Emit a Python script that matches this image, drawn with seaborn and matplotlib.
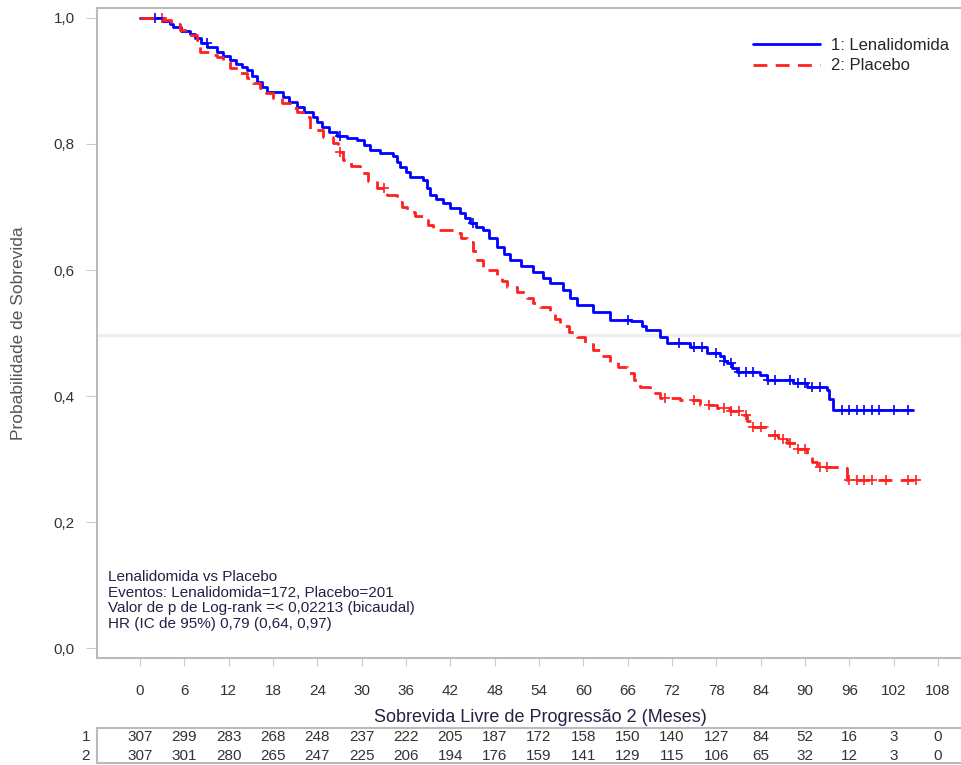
import numpy as np
import pandas as pd
import seaborn as sns
import matplotlib.pyplot as plt
from matplotlib.lines import Line2D

# curvas de Kaplan-Meier (meses, sobrevida)
t_lena = [0, 2.5, 3.1, 4.0, 4.5, 5.5, 6.8, 7.5, 8.3, 9.1, 10.4, 11.3, 12.2, 13.0, 13.8,
          14.5, 15.2, 15.8, 16.5, 17.2, 19.4, 20.2, 21.2, 22.2, 23.4, 24.0, 24.6, 25.6,
          26.7, 28.0, 29.4, 30.3, 31.1, 32.5, 34.2, 34.8, 35.2, 36.0, 36.5, 38.3, 38.8,
          39.2, 40.0, 41.0, 42.0, 43.3, 44.0, 44.7, 45.5, 46.4, 47.3, 48.3, 49.2, 50.1,
          51.5, 53.2, 54.5, 55.5, 57.2, 58.2, 59.1, 61.3, 63.6, 66.5, 67.9, 68.5, 70.4,
          71.3, 74.4, 76.7, 78.5, 79.0, 79.4, 80.1, 80.8, 83.9, 84.9, 88.4, 90.3, 93.0,
          93.3, 93.8, 104.6]
s_lena = [1.0, 1.0, 0.995, 0.99, 0.985, 0.98, 0.975, 0.968, 0.96, 0.954, 0.946, 0.94,
          0.933, 0.927, 0.922, 0.917, 0.908, 0.898, 0.89, 0.883, 0.875, 0.867, 0.859,
          0.851, 0.843, 0.835, 0.827, 0.819, 0.813, 0.81, 0.806, 0.798, 0.79, 0.786,
          0.781, 0.772, 0.763, 0.755, 0.748, 0.743, 0.73, 0.719, 0.713, 0.706, 0.698,
          0.69, 0.683, 0.675, 0.669, 0.663, 0.65, 0.637, 0.626, 0.616, 0.607, 0.597,
          0.587, 0.579, 0.568, 0.556, 0.544, 0.533, 0.521, 0.519, 0.511, 0.505, 0.494,
          0.484, 0.478, 0.468, 0.463, 0.455, 0.452, 0.445, 0.438, 0.433, 0.425, 0.421,
          0.414, 0.41, 0.395, 0.378, 0.378]
t_plac = [0, 3.1, 4.2, 5.4, 6.5, 7.7, 8.1, 9.3, 10.4, 11.3, 12.2, 13.3, 14.5, 15.3, 16.2,
          17.1, 18.0, 19.2, 20.3, 21.2, 22.1, 23.0, 24.8, 26.1, 26.8, 27.5, 28.6, 29.8,
          30.9, 32.1, 33.4, 34.8, 35.4, 36.1, 37.2, 38.3, 39.0, 39.7, 42.4, 43.4, 44.3,
          45.0, 45.6, 46.4, 48.3, 49.0, 49.7, 51.0, 52.4, 53.2, 54.1, 55.5, 56.2, 56.8,
          58.0, 59.1, 60.2, 61.3, 62.5, 63.6, 64.7, 65.9, 66.8, 67.7, 69.0, 70.4, 73.1,
          75.8, 78.1, 79.8, 81.2, 82.2, 83.0, 84.9, 86.3, 87.6, 89.0, 90.3, 91.0, 91.6,
          95.2, 95.7, 105.2]
s_plac = [1.0, 0.997, 0.99, 0.981, 0.973, 0.965, 0.946, 0.942, 0.938, 0.93, 0.921, 0.913,
          0.905, 0.897, 0.889, 0.881, 0.873, 0.865, 0.857, 0.85, 0.843, 0.822, 0.811,
          0.802, 0.788, 0.775, 0.765, 0.754, 0.742, 0.73, 0.719, 0.708, 0.7, 0.692,
          0.685, 0.679, 0.671, 0.663, 0.659, 0.651, 0.644, 0.63, 0.616, 0.6, 0.592,
          0.582, 0.573, 0.565, 0.556, 0.548, 0.541, 0.533, 0.522, 0.511, 0.502, 0.494,
          0.483, 0.473, 0.463, 0.454, 0.446, 0.437, 0.425, 0.414, 0.405, 0.397, 0.394,
          0.386, 0.381, 0.376, 0.37, 0.36, 0.351, 0.338, 0.331, 0.325, 0.316, 0.306,
          0.296, 0.287, 0.286, 0.267, 0.267]

# tempos censurados (+)
cens_lena = [2, 9, 27, 45, 66, 73, 75, 76, 78, 79, 80, 81, 82, 83, 85, 86, 88, 89, 90,
             91, 92, 95, 96, 97, 98, 99, 100, 102, 104]
cens_plac = [3, 27, 33, 71, 75, 77, 79, 80, 81, 82, 83, 84, 86, 87, 88, 89, 90, 92, 93,
             96, 97, 98, 99, 101, 104, 105]

ticks = list(range(0, 109, 6))
risco_lena = [307, 299, 283, 268, 248, 237, 222, 205, 187, 172, 158, 150, 140, 127, 84, 52, 16, 3, 0]
risco_plac = [307, 301, 280, 265, 247, 225, 206, 194, 176, 159, 141, 129, 115, 106, 65, 32, 12, 3, 0]

sns.set_style("white")
plt.rcParams['font.family'] = ['Liberation Sans', 'DejaVu Sans']

fig = plt.figure(figsize=(9.62, 7.65), dpi=100)
ax = fig.add_axes([97/962, 1 - 658/765, 1 - 97/962, 650/765])

ax.axhline(0.497, color='#eeeeee', lw=2.5, zorder=0)

def step_y(t, s, c):
    idx = np.searchsorted(np.array(t), np.array(c), side='right') - 1
    return np.array(s)[idx]

sns.lineplot(x=t_lena, y=s_lena, ax=ax, color='#0000ff', lw=2, drawstyle='steps-post',
             estimator=None, sort=False)
sns.lineplot(x=t_plac, y=s_plac, ax=ax, color='#ff2020', lw=2, drawstyle='steps-post',
             estimator=None, sort=False, dashes=False, linestyle=(0, (5, 3)))
sns.scatterplot(x=cens_lena, y=step_y(t_lena, s_lena, cens_lena), ax=ax, marker='+',
                color='#0000ff', s=60, linewidth=1.2)
sns.scatterplot(x=cens_plac, y=step_y(t_plac, s_plac, cens_plac), ax=ax, marker='+',
                color='#ff2020', s=60, linewidth=1.2)

ax.set_xlim((97 - 140) / 7.389, (962 - 140) / 7.389)
ax.set_ylim((648 - 658) / 630, (648 - 8) / 630)
ax.set_xticks(ticks)
ax.set_xticklabels([str(v) for v in ticks], fontsize=11, color='#333333')
yt = [0, 0.2, 0.4, 0.6, 0.8, 1.0]
ax.set_yticks(yt)
ax.set_yticklabels([f"{v:.1f}".replace('.', ',') for v in yt], fontsize=11, color='#333333')
ax.tick_params(axis='x', length=6, color='#cccccc', pad=13, bottom=True)
ax.tick_params(axis='y', length=8, color='#cccccc', pad=8, left=True)
for sp in ['left', 'bottom', 'top']:
    ax.spines[sp].set_color('#bbbbbb')
    ax.spines[sp].set_linewidth(1.5)
ax.spines['right'].set_visible(False)
ax.set_xlabel('')
ax.set_ylabel('Probabilidade de Sobrevida', fontsize=12.5, color='#555555', labelpad=20)

handles = [Line2D([], [], color='#0000ff', lw=2),
           Line2D([], [], color='#ff2020', lw=2, linestyle=(0, (5, 3)))]
ax.legend(handles, ['1: Lenalidomida', '2: Placebo'], loc='upper left',
          bbox_to_anchor=(656/865, (658 - 38) / 650), frameon=False, fontsize=12,
          handlelength=4.0, handletextpad=0.66, labelspacing=0.32, borderpad=0,
          borderaxespad=0)

fig.text(108/962, 1 - 570/765,
         'Lenalidomida vs Placebo\nEventos: Lenalidomida=172, Placebo=201\n'
         'Valor de p de Log-rank =< 0,02213 (bicaudal)\nHR (IC de 95%) 0,79 (0,64, 0,97)',
         fontsize=11, color='#222244', va='top', ha='left', linespacing=1.15)

fig.text(540/962, 1 - 717/765, 'Sobrevida Livre de Progressão 2 (Meses)',
         fontsize=13, color='#222244', ha='center', va='center')

# tabela de número em risco
tab = fig.add_axes([97/962, 1 - 763/765, 1 - 97/962, 35/765])
tab.set_xlim(ax.get_xlim())
tab.set_ylim(0, 2)
tab.set_xticks([])
tab.set_yticks([])
for sp in ['left', 'bottom', 'top']:
    tab.spines[sp].set_color('#bbbbbb')
    tab.spines[sp].set_linewidth(1.5)
tab.spines['right'].set_visible(False)
for x, a, b in zip(ticks, risco_lena, risco_plac):
    tab.text(x, 1.48, str(a), ha='center', va='center', fontsize=11, color='#333333')
    tab.text(x, 0.42, str(b), ha='center', va='center', fontsize=11, color='#333333')
tab.text(-0.008, 0.74, '1', transform=tab.transAxes, ha='right', va='center',
         fontsize=11, color='#333333')
tab.text(-0.008, 0.21, '2', transform=tab.transAxes, ha='right', va='center',
         fontsize=11, color='#333333')

fig.savefig('out.png', dpi=100)
